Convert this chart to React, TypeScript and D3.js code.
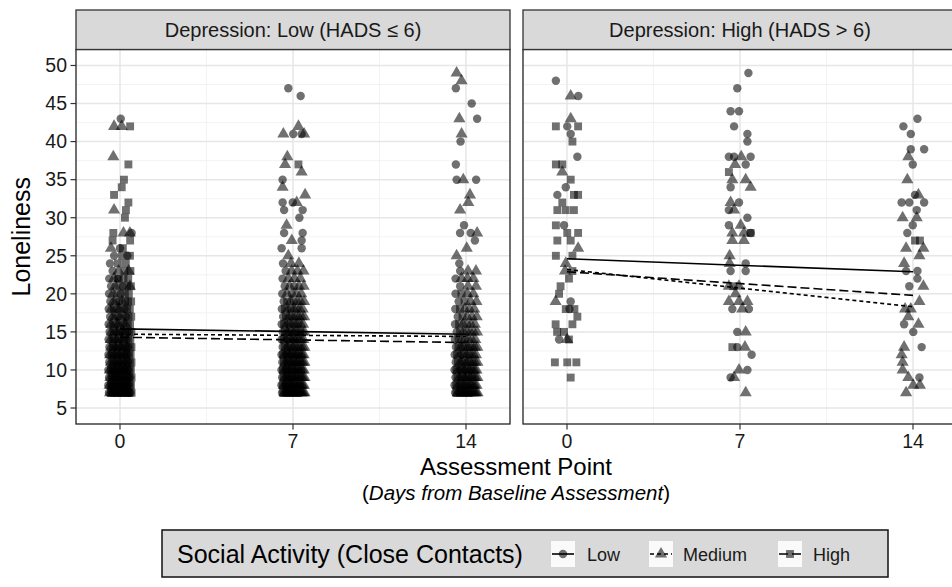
import * as d3 from "d3";

// ---- data ----
const days = [0, 7, 14];
const panelTitles = ["Depression: Low (HADS \u2264 6)", "Depression: High (HADS > 6)"];
const groups = ["Low", "Medium", "High"];
const yTicks = [5, 10, 15, 20, 25, 30, 35, 40, 45, 50];

// sparse (individually readable) points: [day + jitter, loneliness]
const lowDepLowPts = [
  [0.03, 43], [0.47, 28], [0.0, 26], [0.3, 25], [-0.1, 22],
  [6.81, 47], [7.31, 46], [7.01, 41], [7.35, 41], [6.58, 35], [6.58, 32], [6.99, 32],
  [6.64, 31], [7.39, 31], [7.26, 30], [6.64, 28], [7.39, 28], [7.35, 27], [6.54, 26], [7.35, 26],
  [13.59, 47], [14.23, 45], [14.45, 43], [13.78, 40], [13.59, 37], [13.62, 35], [14.41, 35],
  [13.92, 29], [13.76, 28], [14.19, 28], [14.36, 27], [13.73, 24],
];
const lowDepMedPts = [
  [-0.24, 42], [0.07, 42], [-0.27, 38], [-0.24, 31], [0.14, 28], [0.4, 28], [0.35, 23], [0.4, 21],
  [6.61, 41], [7.22, 42], [7.45, 41], [6.77, 38], [6.68, 37], [7.35, 36], [6.58, 34], [7.49, 33],
  [7.15, 32], [6.74, 29], [6.95, 27], [6.81, 25],
  [13.62, 49], [13.82, 48], [13.73, 43], [13.82, 41], [13.89, 35], [14.16, 33], [14.09, 32],
  [13.76, 31], [14.45, 28], [14.03, 26], [13.62, 25],
];
const lowDepHighPts = [
  [0.41, 42], [0.34, 37], [0.16, 35], [0.07, 34], [-0.24, 33], [0.34, 32], [0.24, 31], [0.2, 30],
  [-0.27, 28], [0.41, 27], [-0.3, 27],
  [7.22, 37],
];

const highDepLowPts = [
  [-0.45, 48], [0.46, 46], [0.01, 42], [0.15, 41], [0.42, 38], [-0.05, 34], [-0.39, 33],
  [-0.12, 29], [0.15, 19], [-0.32, 14], [0.1, 18],
  [7.34, 49], [6.89, 47], [6.62, 44], [6.96, 44], [6.76, 42], [7.3, 41], [7.3, 40], [6.55, 38],
  [6.76, 38], [7.43, 38], [7.23, 37], [6.62, 34], [6.96, 32], [6.55, 31], [7.3, 30], [6.55, 29],
  [7.43, 28], [7.23, 24], [7.23, 23], [6.62, 23], [7.36, 18], [6.69, 18], [6.89, 15], [6.89, 13],
  [7.47, 12], [7.3, 10], [6.62, 9],
  [14.18, 43], [13.61, 42], [13.91, 41], [13.91, 39], [14.45, 39], [13.99, 37], [14.08, 33],
  [13.54, 32], [13.85, 32], [14.45, 32], [14.15, 31], [13.99, 29], [13.77, 28], [13.72, 23],
  [14.18, 23], [14.18, 22], [13.85, 21], [13.64, 16], [14.01, 15], [14.35, 13], [14.26, 9],
];
const highDepMedPts = [
  [0.15, 46], [0.15, 43], [-0.19, 36], [0.45, 26], [-0.05, 24], [-0.08, 23], [-0.46, 19], [0.01, 14],
  [7.05, 38], [6.8, 37], [7.23, 35], [6.69, 35], [7.43, 34], [6.62, 32], [6.76, 31], [7.03, 29],
  [6.69, 28], [7.16, 28], [6.69, 27], [7.16, 27], [6.58, 25], [6.58, 24], [6.55, 21], [6.96, 21],
  [6.82, 20], [6.55, 19], [6.96, 19], [7.3, 19], [7.09, 18], [7.23, 15], [7.2, 13], [6.96, 10],
  [6.76, 9], [7.23, 7],
  [13.81, 38], [13.77, 35], [14.22, 33], [13.58, 30], [14.15, 30], [13.72, 26], [14.42, 26],
  [14.26, 25], [13.64, 24], [14.42, 21], [14.26, 19], [13.91, 18], [13.68, 18], [13.81, 17],
  [14.22, 16], [13.64, 13], [13.54, 12], [13.58, 11], [13.58, 10], [13.81, 9], [14.01, 8],
  [14.28, 8], [13.72, 7],
];
const highDepHighPts = [
  [-0.45, 42], [0.45, 42], [0.22, 40], [-0.45, 37], [-0.19, 37], [0.15, 35], [0.28, 33], [0.45, 33],
  [-0.19, 32], [-0.39, 31], [-0.05, 31], [0.28, 31], [-0.45, 29], [0.01, 28], [0.45, 28],
  [-0.39, 27], [0.15, 27], [-0.45, 25], [0.22, 25], [0.22, 23], [0.08, 22], [-0.26, 21],
  [-0.32, 20], [-0.05, 18], [0.42, 17], [-0.46, 16], [0.22, 16], [-0.12, 15], [0.08, 14],
  [-0.4, 15], [0.3, 18], [-0.49, 11], [0.01, 11], [0.38, 11], [0.15, 9],
  [6.55, 36], [7.43, 28], [6.69, 13], [6.73, 21],
  [14.08, 27], [14.28, 27],
];

// dense blocks in the low-depression panel: counts per score, starting at score 7
const countStart = 7;
const lowDepD0Low = [8, 7, 7, 6, 5, 5, 5, 4, 4, 3, 3, 3, 2, 2, 2, 1, 1, 1, 1, 0];
const lowDepD0Med = [6, 5, 5, 5, 4, 4, 3, 3, 3, 3, 2, 2, 2, 1, 1, 1, 1, 0, 0, 1];
const lowDepD0High = [8, 8, 7, 7, 6, 6, 6, 5, 5, 4, 4, 4, 4, 3, 3, 3, 2, 2, 2, 1];
const lowDepD7Low = [6, 6, 6, 6, 5, 5, 4, 4, 4, 4, 3, 3, 2, 2, 2, 1, 1, 1];
const lowDepD7Med = [9, 8, 8, 7, 7, 7, 6, 6, 5, 5, 5, 4, 4, 3, 3, 3, 3, 2];
const lowDepD7High = [5, 4, 3, 3, 3, 3, 2, 2, 2, 1, 1, 1, 1, 0, 0, 0, 0, 0];
const lowDepD14Low = [5, 4, 4, 4, 3, 3, 3, 2, 2, 2, 1, 1, 1, 1, 1, 1, 1];
const lowDepD14Med = [9, 7, 6, 6, 6, 5, 5, 4, 4, 3, 3, 3, 2, 2, 2, 3, 2];
const lowDepD14High = [4, 3, 3, 3, 2, 2, 2, 1, 1, 1, 1, 1, 1, 1, 0, 0, 0];

// fitted trend lines (Low, Medium, High) at day 0 and day 14
const trendDays = [0, 14];
const lowDepTrend = [[15.4, 14.7], [14.7, 14.4], [14.3, 13.6]];
const highDepTrend = [[24.6, 22.9], [23.2, 18.3], [22.9, 19.8]];

// ---- layout ----
const W = 952;
const H = 587;
const FONT = "'Liberation Sans', Arial, Helvetica, sans-serif";
const panelTop = 49.5;
const panelBottom = 424;
const stripTop = 10;
const panelX = [[76, 510], [523, 957]];
const dashes = ["none", "4,3", "9,4"];
const jitterHalf = 0.48;

const y = d3.scaleLinear().domain([2.9, 52.1]).range([panelBottom, panelTop]);
const xScales = panelX.map((r) => d3.scaleLinear().domain([-1.78, 15.78]).range(r));

const symbols = [
  d3.symbol().type(d3.symbolCircle).size(56)(),
  d3.symbol().type(d3.symbolTriangle).size(64)(),
  d3.symbol().type(d3.symbolSquare).size(62)(),
];

type Pt = { x: number; y: number; g: number };

// spread the counted markers of each score row evenly across the jitter band
function layoutCounts(day: number, cols: number[][], groupIds: number[]): Pt[] {
  const out: Pt[] = [];
  const rows = d3.max(cols, (c) => c.length) ?? 0;
  for (let r = 0; r < rows; r++) {
    const seq: number[] = [];
    const left = cols.map((c) => c[r] ?? 0);
    while (left.some((v) => v > 0)) {
      left.forEach((v, k) => {
        if (v > 0) {
          seq.push(groupIds[k]);
          left[k] = v - 1;
        }
      });
    }
    const n = seq.length;
    const shift = (r % 2 === 0 ? 1 : -1) * (0.25 / Math.max(n, 1));
    seq.forEach((g, i) => {
      out.push({ x: day - jitterHalf + (2 * jitterHalf * (i + 0.5)) / n + shift, y: countStart + r, g });
    });
  }
  return out;
}

const toPts = (arr: number[][], g: number): Pt[] => arr.map(([x, v]) => ({ x, y: v, g }));

const panelPoints: Pt[][] = [
  [
    ...layoutCounts(0, [lowDepD0Low, lowDepD0Med, lowDepD0High], [0, 1, 2]),
    ...layoutCounts(7, [lowDepD7Low, lowDepD7High, lowDepD7Med], [0, 2, 1]),
    ...layoutCounts(14, [lowDepD14Low, lowDepD14High, lowDepD14Med], [0, 2, 1]),
    ...toPts(lowDepLowPts, 0),
    ...toPts(lowDepMedPts, 1),
    ...toPts(lowDepHighPts, 2),
  ],
  [...toPts(highDepLowPts, 0), ...toPts(highDepMedPts, 1), ...toPts(highDepHighPts, 2)],
];
const trends = [lowDepTrend, highDepTrend];

const xMinor = [3.5, 10.5];
const yMinor = d3.range(7.5, 50, 5);

function Panel({ i }: { i: number }) {
  const x = xScales[i];
  const [x0, x1] = panelX[i];
  const line = d3
    .line<number>()
    .x((_, k) => x(trendDays[k]))
    .y((v) => y(v));
  return (
    <g>
      <rect x={x0} y={panelTop} width={x1 - x0} height={panelBottom - panelTop} fill="#fff" />
      {yMinor.map((v) => (
        <line key={"ym" + v} x1={x0} x2={x1} y1={y(v)} y2={y(v)} stroke="#f0f0f0" strokeWidth={0.8} />
      ))}
      {xMinor.map((v) => (
        <line key={"xm" + v} x1={x(v)} x2={x(v)} y1={panelTop} y2={panelBottom} stroke="#f0f0f0" strokeWidth={0.8} />
      ))}
      {yTicks.map((v) => (
        <line key={"yM" + v} x1={x0} x2={x1} y1={y(v)} y2={y(v)} stroke="#e6e6e6" strokeWidth={1.5} />
      ))}
      {days.map((d) => (
        <line key={"xM" + d} x1={x(d)} x2={x(d)} y1={panelTop} y2={panelBottom} stroke="#e6e6e6" strokeWidth={1.5} />
      ))}
      {panelPoints[i].map((p, k) => (
        <path
          key={k}
          d={symbols[p.g]}
          transform={`translate(${x(p.x)},${y(p.y)})`}
          fill="#000"
          fillOpacity={0.56}
        />
      ))}
      {trends[i].map((t, g) => (
        <path key={"t" + g} d={line(t) ?? ""} fill="none" stroke="#000" strokeWidth={1.6} strokeDasharray={dashes[g]} />
      ))}
      <rect x={x0} y={panelTop} width={x1 - x0} height={panelBottom - panelTop} fill="none" stroke="#222" strokeWidth={1.3} />
      <rect x={x0} y={stripTop} width={x1 - x0} height={panelTop - stripTop} fill="#d9d9d9" stroke="#333" strokeWidth={1.3} />
      <text x={(x0 + x1) / 2} y={37} textAnchor="middle" fontSize={20} fill="#1a1a1a">
        {panelTitles[i]}
      </text>
      {days.map((d) => (
        <g key={"xt" + d}>
          <line x1={x(d)} x2={x(d)} y1={panelBottom} y2={panelBottom + 5.5} stroke="#333" strokeWidth={1.2} />
          <text x={x(d)} y={448} textAnchor="middle" fontSize={19.5} fill="#1a1a1a">
            {d}
          </text>
        </g>
      ))}
    </g>
  );
}

const legendKeys = [
  { cx: 563, label: 587 },
  { cx: 661, label: 683 },
  { cx: 790, label: 813 },
];

export default function App() {
  return (
    <svg
      width={W}
      height={H}
      viewBox={`0 0 ${W} ${H}`}
      style={{ position: "absolute", left: 0, top: 0, background: "#fff" }}
      fontFamily={FONT}
    >
      <Panel i={0} />
      <Panel i={1} />
      {yTicks.map((v) => (
        <g key={"yt" + v}>
          <line x1={70.5} x2={76} y1={y(v)} y2={y(v)} stroke="#333" strokeWidth={1.2} />
          <text x={67} y={y(v)} dy="0.35em" textAnchor="end" fontSize={19.5} fill="#1a1a1a">
            {v}
          </text>
        </g>
      ))}
      <text
        transform={`translate(30,${(panelTop + panelBottom) / 2}) rotate(-90)`}
        textAnchor="middle"
        fontSize={25}
        fill="#000"
      >
        Loneliness
      </text>
      <text x={516} y={475} textAnchor="middle" fontSize={24} fill="#000">
        Assessment Point
      </text>
      <text x={516} y={500} textAnchor="middle" fontSize={20.5} fill="#000">
        (<tspan fontStyle="italic">Days from Baseline Assessment</tspan>)
      </text>
      <rect x={162} y={530} width={726} height={47} fill="#d9d9d9" stroke="#111" strokeWidth={1.5} />
      <text x={177} y={563} fontSize={25} fill="#000">
        Social Activity (Close Contacts)
      </text>
      {legendKeys.map((k, g) => (
        <g key={"lk" + g}>
          <rect x={k.cx - 12} y={541} width={24} height={26} fill="#fafafa" />
          <line
            x1={k.cx - 11}
            x2={k.cx + 11}
            y1={554}
            y2={554}
            stroke="#000"
            strokeWidth={1.6}
            strokeDasharray={dashes[g]}
          />
          <path d={symbols[g]} transform={`translate(${k.cx},554)`} fill="#000" fillOpacity={0.56} />
          <text x={k.label} y={561} fontSize={18} fill="#1a1a1a">
            {groups[g]}
          </text>
        </g>
      ))}
    </svg>
  );
}
